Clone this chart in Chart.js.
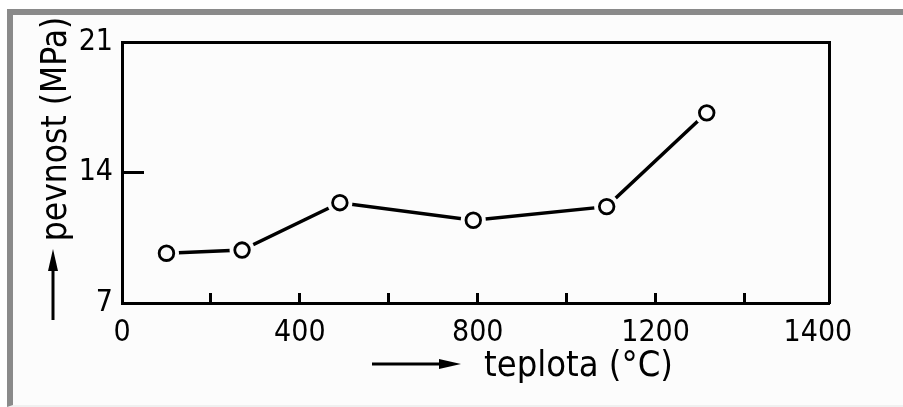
<!DOCTYPE html>
<html>
<head>
<meta charset="utf-8">
<style type="text/css">
  body { margin: 0; background: #fff; }
  .frame {
    position: absolute; left: 7px; top: 9px; width: 896px; height: 398px;
    box-sizing: border-box; border-top: 6px solid #8a8a8a; border-left: 6px solid #8a8a8a;
    border-bottom: 2px solid #f0f0f0; background: #fcfcfc;
  }
  .chart-container { position: absolute; left: 0; top: 0; width: 903px; height: 407px; }
</style>
</head>
<body>
<div class="frame"></div>
<div class="chart-container">
  <canvas id="myChart" width="903" height="407"></canvas>
</div>
<script src="https://cdn.jsdelivr.net/npm/chart.js@4"></script>
<script>
  /* datas */
  const temps = [100, 270, 490, 790, 1090, 1315];
  const strength = [9.67, 9.84, 12.38, 11.44, 12.17, 17.2];
  const xTickValues = [0, 200, 400, 600, 800, 1000, 1200, 1400, 1565];
  const xTickLabels = ['0', '', '400', '', '800', '', '1200', '', '1400'];
  const yTickValues = [7, 14, 21];
  const xTitle = 'teplota (°C)';
  const yTitle = 'pevnost (MPa)';

  const points = temps.map((t, i) => ({x: t, y: strength[i]}));
  const FONT = "'DejaVu Sans Condensed', 'DejaVu Sans', sans-serif";

  // axis titles with their arrows
  const axisTitles = {
    id: 'axisTitles',
    afterDraw(chart) {
      const ctx = chart.ctx;
      ctx.save();
      ctx.fillStyle = '#000';
      ctx.strokeStyle = '#000';
      ctx.font = "36px " + FONT;
      ctx.textBaseline = 'middle';
      ctx.textAlign = 'left';
      ctx.fillText(xTitle, 484, 367);

      ctx.translate(57, 129);
      ctx.rotate(-Math.PI / 2);
      ctx.textAlign = 'center';
      ctx.font = "35px " + FONT;
      ctx.fillText(yTitle, 0, 0);
      ctx.restore();

      arrow(ctx, 372, 364, 461, 364);
      arrow(ctx, 53, 320, 53, 249);
    }
  };

  function arrow(ctx, x1, y1, x2, y2) {
    const a = Math.atan2(y2 - y1, x2 - x1);
    ctx.save();
    ctx.strokeStyle = '#000';
    ctx.fillStyle = '#000';
    ctx.lineWidth = 3;
    ctx.beginPath();
    ctx.moveTo(x1, y1);
    ctx.lineTo(x2 - 10 * Math.cos(a), y2 - 10 * Math.sin(a));
    ctx.stroke();
    ctx.translate(x2, y2);
    ctx.rotate(a);
    ctx.beginPath();
    ctx.moveTo(0, 0);
    ctx.lineTo(-22, -5);
    ctx.lineTo(-22, 5);
    ctx.closePath();
    ctx.fill();
    ctx.restore();
  }

  const myChart = new Chart('myChart', {
    type: 'line',
    data: {
      datasets: [
        {
          data: points,
          borderColor: '#000',
          borderWidth: 3.5,
          pointRadius: 0,
          tension: 0,
          order: 3
        },
        {
          // white halo so the line stops short of each circle
          data: points,
          showLine: false,
          pointRadius: 12.5,
          pointBorderWidth: 0,
          pointBackgroundColor: '#fcfcfc',
          order: 2
        },
        {
          data: points,
          showLine: false,
          pointRadius: 7.3,
          pointBorderWidth: 2.8,
          pointBorderColor: '#000',
          pointBackgroundColor: '#fcfcfc',
          order: 1
        }
      ]
    },
    options: {
      responsive: false,
      animation: false,
      layout: { padding: { top: 42, right: 74, left: 0, bottom: 0 } },
      plugins: { legend: { display: false }, tooltip: { enabled: false } },
      scales: {
        x: {
          type: 'linear', position: 'bottom', min: 0, max: 1590,
          afterBuildTicks: s => { s.ticks = xTickValues.map(v => ({value: v})); },
          afterFit: s => { s.height = 104; s.paddingLeft = 0; s.paddingRight = 0; },
          ticks: {
            autoSkip: false, maxRotation: 0, color: '#000', padding: 22,
            font: { family: FONT, size: 30 },
            callback: (v, i) => xTickLabels[i]
          },
          grid: {
            drawOnChartArea: false, tickLength: -10, tickWidth: 3,
            color: c => (c.tick && c.tick.value > 1400) ? 'rgba(0,0,0,0)' : '#000'
          },
          border: { color: '#000', width: 3 }
        },
        y: {
          type: 'linear', position: 'left', min: 7, max: 21,
          afterBuildTicks: s => { s.ticks = yTickValues.map(v => ({value: v})); },
          afterFit: s => { s.width = 122; s.paddingTop = 0; s.paddingBottom = 0; },
          ticks: { color: '#000', padding: 31, font: { family: FONT, size: 30 } },
          grid: { drawOnChartArea: false, tickLength: -22, tickWidth: 3, color: '#000' },
          border: { color: '#000', width: 3 }
        },
        x2: {
          type: 'linear', position: 'top', min: 0, max: 1590,
          afterFit: s => { s.height = 0; s.paddingLeft = 0; s.paddingRight = 0; },
          ticks: { display: false },
          grid: { drawOnChartArea: false, drawTicks: false },
          border: { color: '#000', width: 3 }
        },
        y2: {
          type: 'linear', position: 'right', min: 7, max: 21,
          afterFit: s => { s.width = 0; s.paddingTop = 0; s.paddingBottom = 0; },
          ticks: { display: false },
          grid: { drawOnChartArea: false, drawTicks: false },
          border: { color: '#000', width: 3 }
        }
      }
    },
    plugins: [axisTitles]
  });
</script>
</body>
</html>
